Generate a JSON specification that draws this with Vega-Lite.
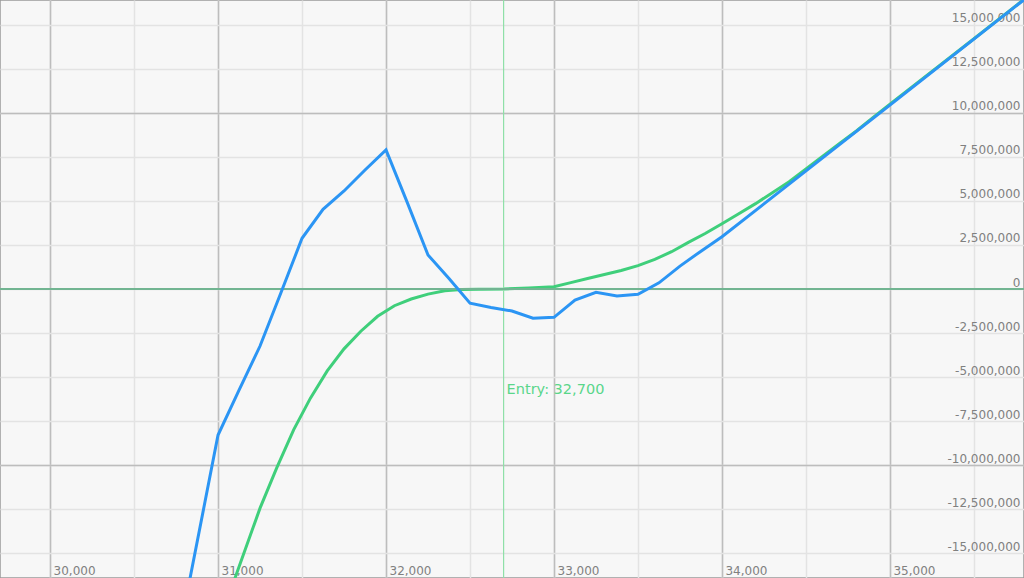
{
  "$schema": "https://vega.github.io/schema/vega-lite/v6.json",
  "width": 1024,
  "height": 578,
  "autosize": {"type": "none"},
  "padding": 0,
  "background": "#f7f7f7",
  "config": {
    "view": {"stroke": "#9a9a9a", "strokeWidth": 1.5, "fill": "#f7f7f7"},
    "axis": {"labelFont": "DejaVu Sans", "labelFontSize": 12, "labelColor": "#808080", "title": null, "domain": false, "ticks": false, "tickSize": 0, "labelOverlap": false, "labelFlush": false, "labelBound": false}
  },
  "datasets": {
    "expiry": [
      {"price": 30750, "pnl": -20500000},
      {"price": 31000, "pnl": -8300000},
      {"price": 31125, "pnl": -5740000},
      {"price": 31250, "pnl": -3240000},
      {"price": 31375, "pnl": -200000},
      {"price": 31500, "pnl": 2880000},
      {"price": 31625, "pnl": 4530000},
      {"price": 31750, "pnl": 5570000},
      {"price": 31875, "pnl": 6760000},
      {"price": 32000, "pnl": 7900000},
      {"price": 32125, "pnl": 4950000},
      {"price": 32250, "pnl": 1930000},
      {"price": 32375, "pnl": 600000},
      {"price": 32500, "pnl": -810000},
      {"price": 32625, "pnl": -1050000},
      {"price": 32750, "pnl": -1250000},
      {"price": 32875, "pnl": -1660000},
      {"price": 33000, "pnl": -1610000},
      {"price": 33125, "pnl": -630000},
      {"price": 33250, "pnl": -190000},
      {"price": 33375, "pnl": -400000},
      {"price": 33500, "pnl": -300000},
      {"price": 33625, "pnl": 350000},
      {"price": 33750, "pnl": 1300000},
      {"price": 33875, "pnl": 2150000},
      {"price": 34000, "pnl": 2970000},
      {"price": 35000, "pnl": 10450000},
      {"price": 36000, "pnl": 17950000}
    ],
    "today": [
      {"price": 31000, "pnl": -19300000},
      {"price": 31100, "pnl": -16450000},
      {"price": 31250, "pnl": -12450000},
      {"price": 31350, "pnl": -10150000},
      {"price": 31450, "pnl": -8000000},
      {"price": 31550, "pnl": -6200000},
      {"price": 31650, "pnl": -4650000},
      {"price": 31750, "pnl": -3400000},
      {"price": 31850, "pnl": -2400000},
      {"price": 31950, "pnl": -1550000},
      {"price": 32050, "pnl": -950000},
      {"price": 32150, "pnl": -570000},
      {"price": 32250, "pnl": -290000},
      {"price": 32350, "pnl": -100000},
      {"price": 32450, "pnl": -30000},
      {"price": 32550, "pnl": -10000},
      {"price": 32700, "pnl": 0},
      {"price": 32850, "pnl": 50000},
      {"price": 33000, "pnl": 130000},
      {"price": 33100, "pnl": 360000},
      {"price": 33200, "pnl": 600000},
      {"price": 33300, "pnl": 820000},
      {"price": 33400, "pnl": 1050000},
      {"price": 33500, "pnl": 1330000},
      {"price": 33600, "pnl": 1680000},
      {"price": 33700, "pnl": 2120000},
      {"price": 33800, "pnl": 2650000},
      {"price": 33900, "pnl": 3150000},
      {"price": 34000, "pnl": 3710000},
      {"price": 34100, "pnl": 4280000},
      {"price": 34200, "pnl": 4850000},
      {"price": 34300, "pnl": 5470000},
      {"price": 34400, "pnl": 6100000},
      {"price": 34500, "pnl": 6820000},
      {"price": 34600, "pnl": 7550000},
      {"price": 34700, "pnl": 8270000},
      {"price": 34800, "pnl": 8980000},
      {"price": 34900, "pnl": 9750000},
      {"price": 35000, "pnl": 10500000},
      {"price": 35500, "pnl": 14220000},
      {"price": 36000, "pnl": 17970000}
    ],
    "entry": [{"price": 32700, "label": "Entry: 32,700"}]
  },
  "layer": [
    {
      "data": {"name": "today"},
      "mark": {"type": "line", "color": "#3fcf7b", "strokeWidth": 3, "clip": true},
      "encoding": {
        "x": {"field": "price", "type": "quantitative", "scale": {"domain": [29702, 35798], "nice": false, "zero": false},
          "axis": {"orient": "bottom", "values": [30000, 30500, 31000, 31500, 32000, 32500, 33000, 33500, 34000, 34500, 35000, 35500], "grid": true, "gridColor": "#e3e3e3", "gridWidth": 1.5, "labels": false}},
        "y": {"field": "pnl", "type": "quantitative", "scale": {"domain": [-16420000, 16420000], "nice": false, "zero": false},
          "axis": {"orient": "right", "values": [-15000000, -12500000, -10000000, -7500000, -5000000, -2500000, 0, 2500000, 5000000, 7500000, 10000000, 12500000, 15000000], "labelExpr": "replace(format(datum.value, ',d'), '\u2212', '-')", "grid": true, "gridColor": "#e3e3e3", "gridWidth": 1.5, "labelAlign": "right", "labelBaseline": "alphabetic", "labelPadding": -4, "labelOffset": -3}}
      }
    },
    {
      "data": {"name": "entry"},
      "layer": [
        {
          "mark": {"type": "rule", "color": "#8fe0a8", "strokeWidth": 1.2},
          "encoding": {"x": {"field": "price", "type": "quantitative", "axis": null}}
        },
        {
          "mark": {"type": "text", "color": "#5ad68a", "font": "DejaVu Sans", "fontSize": 14.5, "align": "left", "baseline": "middle", "dx": 3},
          "encoding": {
            "x": {"field": "price", "type": "quantitative", "axis": null},
            "y": {"datum": -5740000, "type": "quantitative", "axis": null},
            "text": {"field": "label"}
          }
        }
      ]
    },
    {
      "data": {"values": [{}]},
      "mark": {"type": "rule", "color": "#72b592", "strokeWidth": 2},
      "encoding": {"y": {"datum": 0, "type": "quantitative", "axis": null}}
    },
    {
      "data": {"name": "expiry"},
      "mark": {"type": "line", "color": "#2b95f4", "strokeWidth": 3, "clip": true},
      "encoding": {
        "x": {"field": "price", "type": "quantitative",
          "axis": {"orient": "bottom", "values": [30000, 31000, 32000, 33000, 34000, 35000], "format": ",d", "grid": true, "gridColor": "#bdbdbd", "gridWidth": 1.5, "labelAlign": "left", "labelBaseline": "alphabetic", "labelPadding": -4, "labelOffset": 3}},
        "y": {"field": "pnl", "type": "quantitative",
          "axis": {"orient": "right", "values": [-10000000, 10000000], "grid": true, "gridColor": "#bdbdbd", "gridWidth": 1.5, "labels": false}}
      }
    }
  ],
  "resolve": {"axis": {"x": "independent", "y": "independent"}}
}
